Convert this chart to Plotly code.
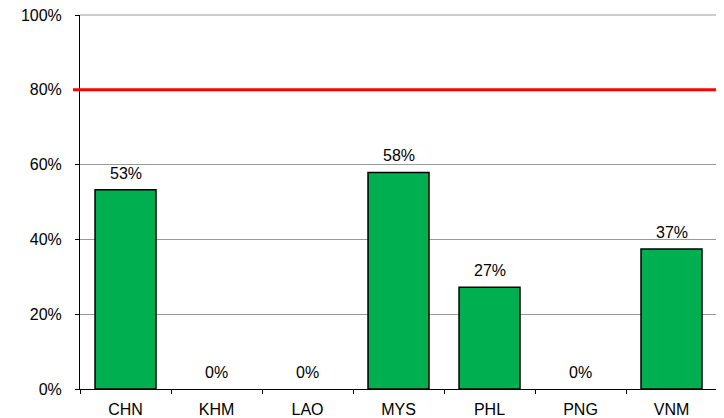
import plotly.graph_objects as go

categories = ["CHN", "KHM", "LAO", "MYS", "PHL", "PNG", "VNM"]
values = [53.3, 0, 0, 57.9, 27.2, 0, 37.4]
labels = ["53%", "0%", "0%", "58%", "27%", "0%", "37%"]
target = 80
y_ticks = [0, 20, 40, 60, 80, 100]
y_tick_labels = ["0%", "20%", "40%", "60%", "80%", "100%"]

outline = [1.5 if v > 0 else 0 for v in values]

fig = go.Figure()
fig.add_trace(go.Bar(
    x=categories, y=values,
    marker=dict(color="#00B050", line=dict(color="black", width=outline)),
    cliponaxis=False,
))
for c, v, t in zip(categories, values, labels):
    fig.add_annotation(x=c, y=v, text=t, showarrow=False, xref="x", yref="y",
                       yanchor="bottom", yshift=6,
                       font=dict(size=16, color="black", family="Liberation Sans, Arial"))
fig.add_shape(type="line", xref="paper", yref="y", x0=-0.011, x1=1, y0=target, y1=target,
              line=dict(color="#FF0000", width=3))
fig.add_shape(type="line", xref="paper", yref="paper", x0=0, x1=1, y0=1, y1=1,
              line=dict(color="#999999", width=1))
fig.add_shape(type="line", xref="paper", yref="paper", x0=1, x1=1, y0=0, y1=1,
              line=dict(color="#999999", width=1))

fig.update_layout(
    width=724, height=418,
    margin=dict(l=72, r=15, t=7, b=37),
    plot_bgcolor="white", paper_bgcolor="white",
    bargap=0.33, showlegend=False,
    font=dict(family="Liberation Sans, Arial", size=16, color="black"),
    xaxis=dict(showline=True, linecolor="black", linewidth=1, tickson="boundaries",
               ticks="outside", ticklen=4, tickcolor="black", showgrid=False,
               tickfont=dict(size=16), ticklabelstandoff=6, automargin=False),
    yaxis=dict(range=[0, 100], tickvals=y_ticks, ticktext=y_tick_labels,
               showline=True, linecolor="black", linewidth=1, ticks="outside",
               ticklen=4, tickcolor="black", showgrid=True, gridcolor="#999999",
               gridwidth=1, zeroline=False, tickfont=dict(size=16), ticklabelstandoff=10,
               ticklabeloverflow="allow", automargin=False),
)
fig.write_html("out.html")
